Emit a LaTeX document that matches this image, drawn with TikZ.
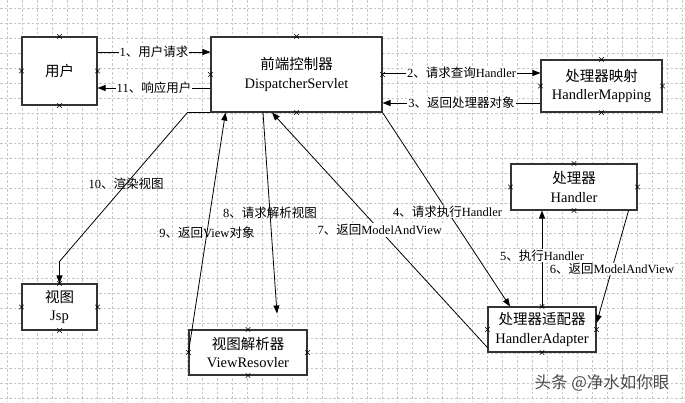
\documentclass[tikz,border=0pt]{standalone}
\usepackage{fontspec}
\setmainfont{Liberation Serif}
\newfontfamily\cjk{Noto Sans CJK SC}
\newcommand{\zh}[1]{{\cjk #1}}
\usetikzlibrary{arrows.meta,shapes.misc}
\definecolor{gridc}{rgb}{0.78,0.78,0.78}
\definecolor{boxc}{rgb}{0.2,0.2,0.2}

\begin{document}
\begin{tikzpicture}[x=1pt, y=-1pt, >={Triangle[length=8pt,width=6pt]},
    block/.style={rectangle, draw=boxc, line width=1.1pt, fill=white, align=center, inner sep=0pt, font=\fontsize{14.5}{18.5}\selectfont},
    link/.style={->, line width=0.8pt},
    lbl/.style={inner sep=1pt, font=\fontsize{12.5}{15}\selectfont},
    lblw/.style={lbl, fill=white},
    xmark/.style={cross out, draw, line width=0.5pt, inner sep=0pt, minimum size=4pt},
    gridline/.style={gridc, dash pattern=on 2.5pt off 2pt, line width=0.6pt}]

    \useasboundingbox (0,0) rectangle (685,402);
    \fill[white] (0,0) rectangle (685,402);
    \foreach \gx in {7,22,...,682} \draw[gridline] (\gx,0) -- (\gx,402);
    \foreach \gy in {8,23,...,398} \draw[gridline] (0,\gy) -- (685,\gy);

    \node[block, minimum width=75pt, minimum height=68pt] (user) at (59.5,71) {\zh{用户}};
    \node[block, minimum width=171pt, minimum height=75pt] (ds) at (296.5,74.5) {\zh{前端控制器}\\DispatcherServlet};
    \node[block, minimum width=121pt, minimum height=52pt] (hm) at (601.5,86) {\zh{处理器映射}\\HandlerMapping};
    \node[block, minimum width=126pt, minimum height=46pt] (hd) at (574,187) {\zh{处理器}\\Handler};
    \node[block, minimum width=108pt, minimum height=45pt] (ha) at (542,329.5) {\zh{处理器适配器}\\HandlerAdapter};
    \node[block, minimum width=75pt, minimum height=46pt] (jsp) at (59.5,307) {\zh{视图}\\Jsp};
    \node[block, minimum width=118pt, minimum height=45pt] (vr) at (248,352.5) {\zh{视图解析器}\\ViewResovler};

    \draw[link] ([yshift=19pt]user.east) -- node[lblw] {1\zh{、用户请求}} ([yshift=19pt]user.east -| ds.west);
    \draw[link] ([yshift=-13.5pt]ds.west) -- node[lblw] {11\zh{、响应用户}} ([yshift=-13.5pt]ds.west -| user.east);
    \draw[link] ([yshift=1.5pt]ds.east) -- node[lblw] {2\zh{、请求查询}Handler} ([yshift=1.5pt]ds.east -| hm.west);
    \draw[link] ([yshift=-17pt]hm.west) -- node[lblw] {3\zh{、返回处理器对象}} ([yshift=-17pt]hm.west -| ds.east);
    \draw[link] (ds.south east) -- node[lblw, pos=0.51] {4\zh{、请求执行}Handler} ([xshift=-32pt]ha.north);
    \draw[link] (ha.north) -- node[lblw, pos=0.53] {5\zh{、执行}Handler} (ha.north |- hd.south);
    \draw[link] ([xshift=-9pt]hd.south east) -- node[lblw, pos=0.52, inner sep=0pt] {6\zh{、返回}ModelAndView} ([yshift=6.5pt]ha.east);
    \draw[link] ([yshift=5pt]ha.south west) -- node[lblw, pos=0.5] {7\zh{、返回}ModelAndView} ([xshift=-24.5pt]ds.south);
    \draw[link] ([xshift=-33.5pt]ds.south) -- node[lbl, pos=0.5] {8\zh{、请求解析视图}} ([xshift=29pt, yshift=16pt]vr.north);
    \draw[link] (vr.west) -- node[lbl, pos=0.5] {9\zh{、返回}View\zh{对象}} ([xshift=-71pt]ds.south);
    \draw[link] (ds.south west) -- ++(-23,0) -- node[lbl, pos=0.48] {10\zh{、渲染视图}} ([yshift=22pt]jsp.north) -- (jsp.north);

    \foreach \n in {user,ds,hm,hd,ha,jsp,vr}
      \foreach \a in {north,south,east,west}
        \node[xmark] at (\n.\a) {};

    \node[font=\fontsize{16.5}{18}\selectfont\cjk, text=black!70] (mark) at (602,383) {头条 @净水如你眼};

\end{tikzpicture}
\end{document}
